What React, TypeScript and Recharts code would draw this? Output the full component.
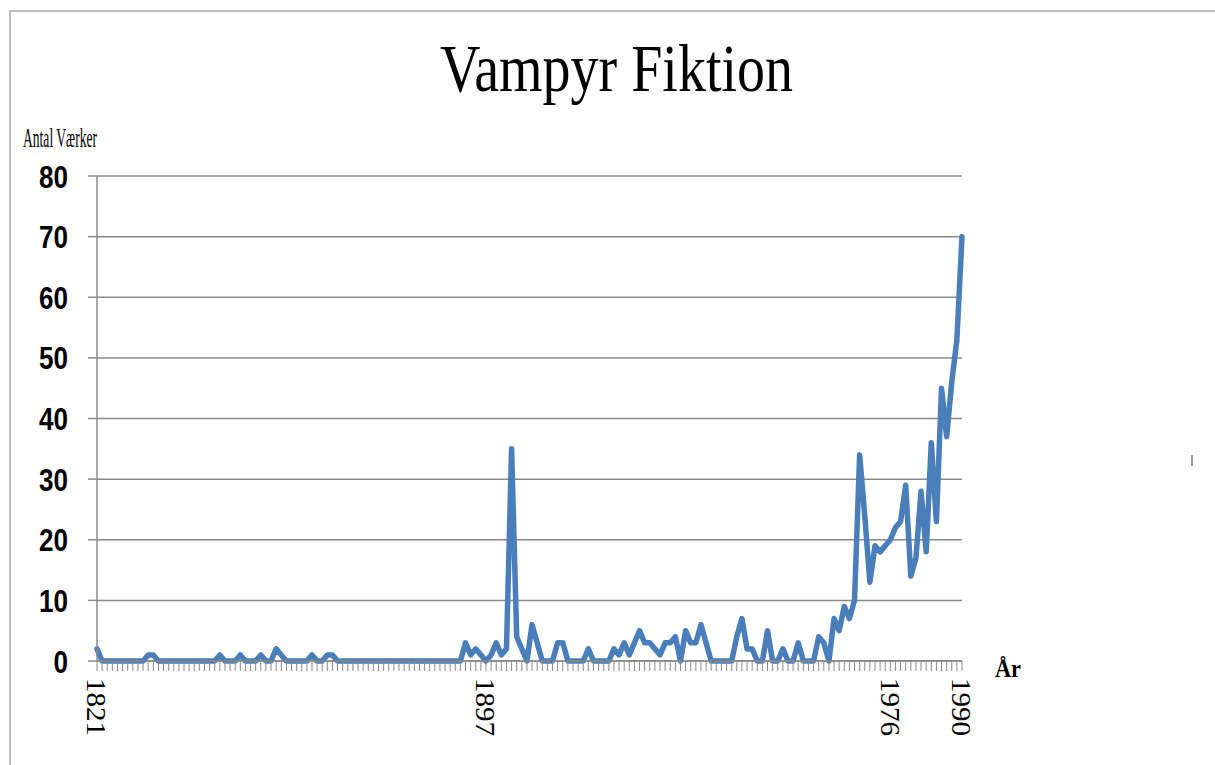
import { LineChart, Line, XAxis, YAxis, CartesianGrid } from 'recharts';

// Number of vampire fiction works per year, one row per ten years starting 1821.
const FIRST_YEAR = 1821;
const counts1821 = [2, 0, 0, 0, 0, 0, 0, 0, 0, 0];
const counts1831 = [1, 1, 0, 0, 0, 0, 0, 0, 0, 0];
const counts1841 = [0, 0, 0, 0, 1, 0, 0, 0, 1, 0];
const counts1851 = [0, 0, 1, 0, 0, 2, 1, 0, 0, 0];
const counts1861 = [0, 0, 1, 0, 0, 1, 1, 0, 0, 0];
const counts1871 = [0, 0, 0, 0, 0, 0, 0, 0, 0, 0];
const counts1881 = [0, 0, 0, 0, 0, 0, 0, 0, 0, 0];
const counts1891 = [0, 0, 3, 1, 2, 1, 0, 1, 3, 1];
const counts1901 = [2, 35, 4, 2, 0, 6, 3, 0, 0, 0];
const counts1911 = [3, 3, 0, 0, 0, 0, 2, 0, 0, 0];
const counts1921 = [0, 2, 1, 3, 1, 3, 5, 3, 3, 2];
const counts1931 = [1, 3, 3, 4, 0, 5, 3, 3, 6, 3];
const counts1941 = [0, 0, 0, 0, 0, 4, 7, 2, 2, 0];
const counts1951 = [0, 5, 0, 0, 2, 0, 0, 3, 0, 0];
const counts1961 = [0, 4, 3, 0, 7, 5, 9, 7, 10, 34];
const counts1971 = [24, 13, 19, 18, 19, 20, 22, 23, 29, 14];
const counts1981 = [17, 28, 18, 36, 23, 45, 37, 46, 53, 70];

const workCounts = [
  ...counts1821, ...counts1831, ...counts1841, ...counts1851, ...counts1861,
  ...counts1871, ...counts1881, ...counts1891, ...counts1901, ...counts1911,
  ...counts1921, ...counts1931, ...counts1941, ...counts1951, ...counts1961,
  ...counts1971, ...counts1981,
];

const labelledYears = [1821, 1897, 1976, 1990];
const yTicks = [0, 10, 20, 30, 40, 50, 60, 70, 80];

const data = workCounts.map((works, i) => ({ year: FIRST_YEAR + i, works }));

const GRID = '#8a8a8a';
const BLUE = '#4a7ebb';
const SERIF = "'Liberation Serif', 'Times New Roman', serif";

const YearTick = (props: any) => {
  const { x, y, payload } = props;
  if (!labelledYears.includes(payload.value)) return <g />;
  return (
    <text
      x={x}
      y={y}
      dy="0.35em"
      transform={`rotate(90, ${x}, ${y})`}
      textAnchor="start"
      fontFamily={SERIF}
      fontSize={28}
      fill="#000"
      textLength={58}
      lengthAdjust="spacingAndGlyphs"
    >
      {payload.value}
    </text>
  );
};

const CountTick = (props: any) => {
  const { x, y, payload } = props;
  const label = String(payload.value);
  return (
    <text
      x={x}
      y={y}
      dy="0.36em"
      textAnchor="end"
      fontFamily="'Liberation Sans Narrow', 'Liberation Sans', Arial, sans-serif"
      fontWeight="bold"
      fontSize={32}
      fill="#000"
      textLength={14.5 * label.length}
      lengthAdjust="spacingAndGlyphs"
    >
      {label}
    </text>
  );
};

export default function App() {
  return (
    <div
      style={{
        position: 'absolute',
        left: 0,
        top: 0,
        width: 1215,
        height: 765,
        background: '#fff',
      }}
    >
      <LineChart
        width={1215}
        height={765}
        data={data}
        margin={{ top: 176, right: 253, bottom: 14, left: 37 }}
      >
        <CartesianGrid vertical={false} stroke={GRID} strokeWidth={1.5} />
        <XAxis
          dataKey="year"
          scale="point"
          interval={0}
          height={90}
          axisLine={{ stroke: GRID, strokeWidth: 1.5 }}
          tickLine={{ stroke: GRID, strokeWidth: 1 }}
          tickSize={10}
          tickMargin={7}
          tick={<YearTick />}
        />
        <YAxis
          width={60}
          domain={[0, 80]}
          ticks={yTicks}
          axisLine={{ stroke: GRID, strokeWidth: 1.5 }}
          tickLine={{ stroke: GRID, strokeWidth: 1.5 }}
          tickSize={9}
          tickMargin={20}
          tick={<CountTick />}
        />
        <Line
          type="linear"
          dataKey="works"
          stroke={BLUE}
          strokeWidth={5.5}
          strokeLinejoin="round"
          strokeLinecap="round"
          dot={false}
          isAnimationActive={false}
        />
      </LineChart>
      <svg
        width={1215}
        height={765}
        style={{ position: 'absolute', left: 0, top: 0, pointerEvents: 'none' }}
      >
        <line x1={10} y1={11} x2={1215} y2={11} stroke="#a8a8a8" strokeWidth={1.5} />
        <line x1={10} y1={11} x2={10} y2={765} stroke="#a8a8a8" strokeWidth={1.5} />
        <text
          x={440}
          y={91}
          fontFamily={SERIF}
          fontSize={68}
          textLength={353}
          lengthAdjust="spacingAndGlyphs"
        >
          Vampyr Fiktion
        </text>
        <text
          x={23}
          y={147}
          fontFamily={SERIF}
          fontSize={27}
          textLength={74}
          lengthAdjust="spacingAndGlyphs"
        >
          Antal Værker
        </text>
        <text
          x={995}
          y={677}
          fontFamily={SERIF}
          fontWeight="bold"
          fontSize={26}
          textLength={26}
          lengthAdjust="spacingAndGlyphs"
        >
          År
        </text>
        <line x1={1192} y1={455} x2={1192} y2={466} stroke="#777" strokeWidth={1.5} />
      </svg>
    </div>
  );
}
